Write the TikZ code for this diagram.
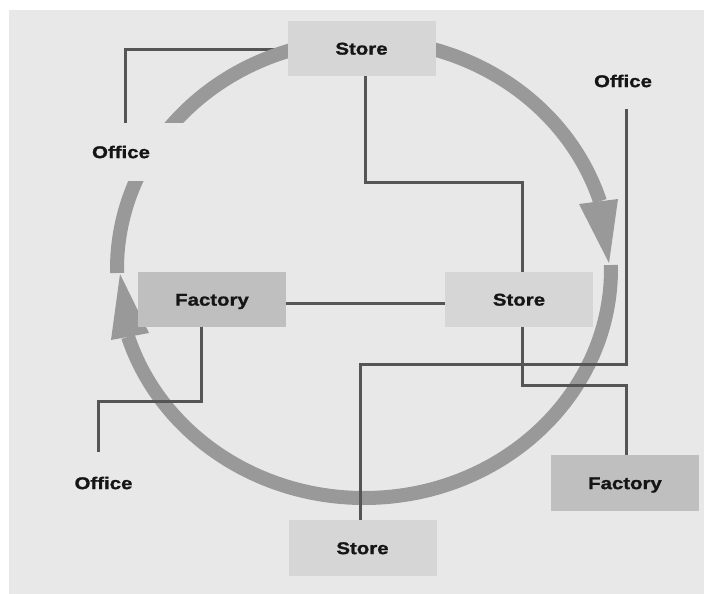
\documentclass[tikz,border=0pt]{standalone}
\usepackage{fontspec}
\newfontfamily\labfont[FakeStretch=1.2,FakeBold=1.2]{Liberation Sans}
\definecolor{bgc}{HTML}{E8E8E8}
\definecolor{storec}{HTML}{D6D6D6}
\definecolor{factc}{HTML}{BFBFBF}
\definecolor{ringc}{HTML}{999999}
\definecolor{linec}{HTML}{555555}
\definecolor{txt}{HTML}{151515}
\pgfdeclarelayer{back}
\pgfdeclarelayer{mid}
\pgfsetlayers{back,mid,main}
\begin{document}
\begin{tikzpicture}[x=1pt,y=1pt,
  lab/.style={font=\labfont\bfseries\fontsize{17}{20}\selectfont, text=txt, inner sep=0pt, text height=12.2pt, text depth=0pt},
  box/.style={lab, minimum width=148pt, minimum height=55pt},
  storebox/.style={box, fill=storec},
  factbox/.style={box, fill=factc},
  conn/.style={draw=linec, line width=3pt},
  ring/.style={draw=ringc, line width=14pt}]
\useasboundingbox (0,0) rectangle (704,-594);
\begin{pgfonlayer}{back}
\fill[white] (0,0) rectangle (704,-594);
\fill[bgc] (9,-10) rectangle (704,-594);
\end{pgfonlayer}

% boxes
\node[storebox] (stop) at (361.5,-48.5) {Store};
\node[storebox] (smid) at (519,-299.5) {Store};
\node[storebox, minimum height=56pt] (sbot) at (362.5,-548) {Store};
\node[factbox] (fmid) at (212,-299.5) {Factory};
\node[factbox, minimum height=56pt] (fbr) at (625,-483) {Factory};

% office labels
\node[lab, fill=bgc, minimum width=130pt, minimum height=58pt] (ofl) at (121,-152) {Office};
\node[lab, minimum height=56pt] (ofr) at (623,-81) {Office};
\node[lab, minimum height=62pt] (ofb) at (103.5,-483) {Office};

% ring
\begin{pgfonlayer}{mid}
\draw[ring] (364,-269) ++(181:247 and 229)
  arc[start angle=181, end angle=17.2, x radius=247, y radius=229];
\draw[ring] (364,-269) ++(1:247 and 229)
  arc[start angle=1, end angle=-162.8, x radius=247, y radius=229];
\fill[ringc] (579,-204) -- (618,-199) -- (609,-263) -- cycle;
\fill[ringc] (111,-340) -- (149,-333) -- (120,-274) -- cycle;
\end{pgfonlayer}

% connector under the ring
\begin{pgfonlayer}{back}
\draw[conn] ([xshift=4pt]ofl.north) |- ([yshift=-1.5pt]stop.west);
\end{pgfonlayer}

% connectors over the ring
\draw[conn] ([xshift=3.5pt]stop.south) -- ++(0,-106) -| ([xshift=3pt]smid.north);
\draw[conn] ([yshift=-3.5pt]fmid.east) -- ([yshift=-3.5pt]smid.west);
\draw[conn] ([xshift=-11pt]fmid.south) -- ++(0,-74) -| ([xshift=-5.5pt]ofb.north);
\draw[conn] ([xshift=3pt]ofr.south) -- ++(0,-255) -| ([xshift=-2.5pt]sbot.north);
\draw[conn] ([xshift=3pt]smid.south) -- ++(0,-58) -| ([xshift=1pt]fbr.north);
\end{tikzpicture}
\end{document}
